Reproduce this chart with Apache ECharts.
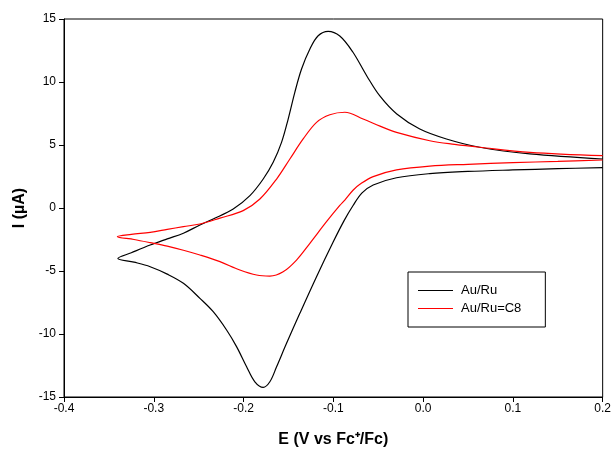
<!DOCTYPE html>
<html>
<head>
<meta charset="utf-8">
<script src="https://cdn.jsdelivr.net/npm/echarts@6/dist/echarts.min.js"></script>
<style>html,body{margin:0;padding:0;background:#fff;}#c{width:614px;height:453px;}</style>
</head>
<body>
<div id="c"></div>
<script>
// Au/Ru : return (lower) branch from right to the vertex, then forward (upper) branch to the right
var auPotential = [0.2, 0.15, 0.1, 0.05, 0.0074, -0.0296, -0.0556, -0.068, -0.078, -0.088, -0.1002, -0.1187, -0.1373, -0.1521, -0.1632, -0.1707, -0.1781, -0.1874, -0.1966, -0.2078, -0.2189, -0.2338, -0.2486, -0.267, -0.285, -0.304, -0.322, -0.34,
  -0.325, -0.304, -0.285, -0.267, -0.2486, -0.2338, -0.2115, -0.1929, -0.1781, -0.167, -0.1577, -0.1503, -0.1429, -0.1354, -0.1261, -0.1169, -0.1058, -0.0928, -0.0783, -0.0627, -0.0482, -0.0293, -0.0037, 0.026, 0.063, 0.1188, 0.2];
var auCurrent = [3.2, 3.12, 3.02, 2.9, 2.73, 2.4, 1.83, 1.2, 0.2, -1.0, -2.7, -5.45, -8.36, -10.74, -12.6, -13.79, -14.23, -13.79, -12.6, -11.0, -9.68, -8.23, -7.17, -5.98, -5.25, -4.66, -4.3, -4.0,
  -3.55, -2.94, -2.45, -2.0, -1.35, -0.87, -0.08, 0.98, 2.3, 3.63, 5.21, 7.06, 9.18, 11.03, 12.62, 13.67, 14.02, 13.65, 12.38, 10.48, 8.89, 7.46, 6.27, 5.48, 4.82, 4.29, 3.89];
// Au/Ru=C8
var c8Potential = [0.2, 0.15, 0.1, 0.05, 0.0074, -0.0296, -0.0556, -0.07, -0.0778, -0.0872, -0.0928, -0.1076, -0.1261, -0.141, -0.1559, -0.1707, -0.1855, -0.2041, -0.2263, -0.2486, -0.267, -0.285, -0.304, -0.322, -0.3406,
  -0.325, -0.304, -0.285, -0.267, -0.2486, -0.2263, -0.2004, -0.1818, -0.1632, -0.1484, -0.1336, -0.1187, -0.1039, -0.0872, -0.0668, -0.048, -0.0296, 0.0074, 0.035, 0.063, 0.119, 0.2];
var c8Current = [3.81, 3.7, 3.6, 3.47, 3.33, 3.02, 2.49, 1.9, 1.43, 0.63, 0.2, -1.09, -2.8, -4.13, -5.06, -5.4, -5.32, -4.92, -4.26, -3.73, -3.35, -3.03, -2.75, -2.5, -2.28,
  -2.1, -1.93, -1.7, -1.48, -1.27, -0.8, -0.21, 0.71, 2.3, 3.89, 5.48, 6.8, 7.4, 7.6, 7.06, 6.5, 6.0, 5.34, 5.05, 4.82, 4.42, 4.15];
var seriesNames = ['Au/Ru', 'Au/Ru=C8'];

function pairs(xs, ys) { return xs.map(function (x, i) { return [x, ys[i]]; }); }

var chart = echarts.init(document.getElementById('c'), null, { renderer: 'canvas' });
var font = 'Liberation Sans, Arial, sans-serif';
chart.setOption({
  animation: false,
  backgroundColor: '#fff',
  grid: { left: 64, right: 11, top: 19, bottom: 56, show: true, borderColor: '#000', borderWidth: 1, containLabel: false },
  xAxis: {
    type: 'value', min: -0.4, max: 0.2, interval: 0.1,
    name: 'E (V vs Fc\u207A/Fc)', nameLocation: 'middle', nameGap: 35,
    nameTextStyle: { fontFamily: font, fontSize: 16, fontWeight: 'bold', color: '#000' },
    axisLine: { show: true, onZero: false, lineStyle: { color: '#000', width: 1 } },
    axisTick: { show: true, inside: false, length: 5, lineStyle: { color: '#000' } },
    axisLabel: { fontFamily: font, fontSize: 12, color: '#000', margin: 6, formatter: function (v) { return v.toFixed(1); } },
    splitLine: { show: false }
  },
  yAxis: {
    type: 'value', min: -15, max: 15, interval: 5,
    name: 'I (\u00B5A)', nameLocation: 'middle', nameGap: 28, nameRotate: 90,
    nameTextStyle: { fontFamily: font, fontSize: 16, fontWeight: 'bold', color: '#000' },
    axisLine: { show: true, onZero: false, lineStyle: { color: '#000', width: 1 } },
    axisTick: { show: true, inside: false, length: 5, lineStyle: { color: '#000' } },
    axisLabel: { fontFamily: font, fontSize: 12, color: '#000', margin: 8 },
    splitLine: { show: false }
  },
  legend: {
    left: 408, top: 272, orient: 'vertical',
    borderColor: '#000', borderWidth: 1, borderRadius: 0,
    padding: [11, 24, 11, 10], itemGap: 3, itemWidth: 35, itemHeight: 1,
    icon: 'rect',
    textStyle: { fontFamily: font, fontSize: 13, color: '#000', lineHeight: 15, padding: [0, 0, 0, 3] },
    data: seriesNames
  },
  series: [
    { name: seriesNames[0], type: 'line', data: pairs(auPotential, auCurrent), symbol: 'none', smooth: 0.35,
      lineStyle: { color: '#000', width: 1.2 }, itemStyle: { color: '#000' } },
    { name: seriesNames[1], type: 'line', data: pairs(c8Potential, c8Current), symbol: 'none', smooth: 0.35,
      lineStyle: { color: '#ff0000', width: 1.2 }, itemStyle: { color: '#ff0000' } }
  ]
});
</script>
</body>
</html>
